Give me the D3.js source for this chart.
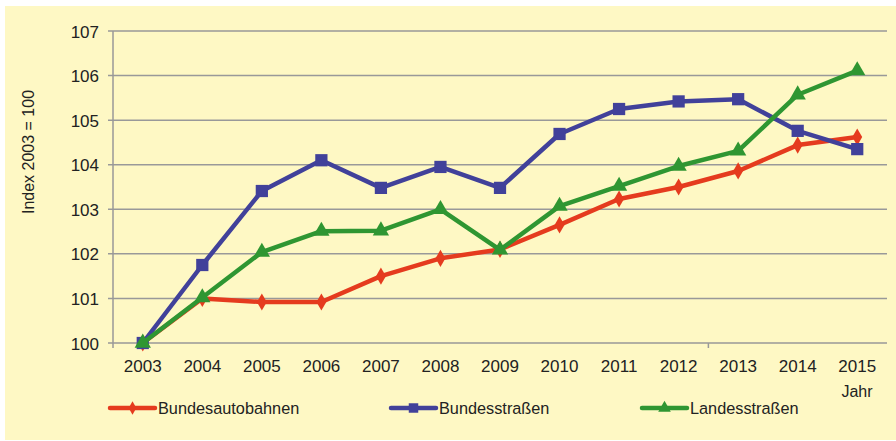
<!DOCTYPE html>
<html>
<head>
<meta charset="utf-8">
<script src="https://cdn.jsdelivr.net/npm/d3@7"></script>
<style>
  body { margin: 0; background: #fff; }
  svg { display: block; font-family: "Liberation Sans", Arial, sans-serif; }
</style>
</head>
<body>
<svg></svg>
<script>
const years = ["2003", "2004", "2005", "2006", "2007", "2008", "2009", "2010", "2011", "2012", "2013", "2014", "2015"];
const bundesautobahnen = [100, 101.0, 100.92, 100.92, 101.5, 101.9, 102.1, 102.65, 103.23, 103.5, 103.86, 104.44, 104.62];
const bundesstrassen = [100, 101.75, 103.41, 104.1, 103.48, 103.95, 103.48, 104.69, 105.25, 105.42, 105.47, 104.76, 104.35];
const landesstrassen = [100, 101.02, 102.04, 102.51, 102.52, 103.0, 102.09, 103.07, 103.52, 103.97, 104.31, 105.57, 106.11];
const yTicks = [100, 101, 102, 103, 104, 105, 106, 107];

const series = [
    { name: "Bundesautobahnen", values: bundesautobahnen, color: "#e53b1e", symbol: d3.symbolDiamond, size: 85 },
    { name: "Bundesstraßen", values: bundesstrassen, color: "#41419a", symbol: d3.symbolSquare, size: 150 },
    { name: "Landesstraßen", values: landesstrassen, color: "#2f9632", symbol: d3.symbolTriangle, size: 115 }
];

const width = 896, height = 441;
const plotLeft = 113, plotRight = 887, plotTop = 31, plotBottom = 343;

const svg = d3.select("svg")
    .attr("width", width)
    .attr("height", height);

// gelber Hintergrund
svg.append("rect")
    .attr("x", 5).attr("y", 6)
    .attr("width", width - 5).attr("height", 434)
    .attr("fill", "#fef8c4");

const x = d3.scaleBand().domain(years).range([plotLeft, plotRight]);
const y = d3.scaleLinear().domain([100, 107]).range([plotBottom, plotTop]);

// horizontale Gitterlinien
svg.append("g")
    .selectAll("line")
    .data(yTicks)
    .enter()
    .append("line")
    .attr("x1", plotLeft - 5)
    .attr("x2", plotRight)
    .attr("y1", d => y(d))
    .attr("y2", d => y(d))
    .attr("stroke", "#999")
    .attr("stroke-width", 1.5);

// y-Achse
svg.append("line")
    .attr("x1", plotLeft).attr("x2", plotLeft)
    .attr("y1", plotTop).attr("y2", plotBottom + 5)
    .attr("stroke", "#999")
    .attr("stroke-width", 1.5);

// Tick unter der x-Achse
svg.append("line")
    .attr("x1", x(years[10])).attr("x2", x(years[10]))
    .attr("y1", plotBottom).attr("y2", plotBottom + 5)
    .attr("stroke", "#999")
    .attr("stroke-width", 1.5);

svg.append("g")
    .selectAll("text")
    .data(yTicks)
    .enter()
    .append("text")
    .attr("x", 99)
    .attr("y", d => y(d) + 6.5)
    .attr("text-anchor", "end")
    .attr("font-size", 17)
    .attr("fill", "#222")
    .text(d => d);

svg.append("g")
    .selectAll("text")
    .data(years)
    .enter()
    .append("text")
    .attr("x", d => x(d) + x.bandwidth() / 2)
    .attr("y", 372)
    .attr("text-anchor", "middle")
    .attr("font-size", 17)
    .attr("fill", "#222")
    .text(d => d);

svg.append("text")
    .attr("x", 857)
    .attr("y", 397)
    .attr("text-anchor", "middle")
    .attr("font-size", 16)
    .attr("fill", "#222")
    .text("Jahr");

svg.append("text")
    .attr("transform", "translate(34 152) rotate(-90)")
    .attr("text-anchor", "middle")
    .attr("font-size", 16)
    .attr("fill", "#222")
    .text("Index 2003 = 100");

// Linien
const line = d3.line()
    .x((d, i) => x(years[i]) + x.bandwidth() / 2)
    .y(d => y(d));

series.forEach(s => {
    const g = svg.append("g");
    g.append("path")
        .attr("d", line(s.values))
        .attr("fill", "none")
        .attr("stroke", s.color)
        .attr("stroke-width", 4.5)
        .attr("stroke-linejoin", "round");
    g.selectAll("path.m")
        .data(s.values)
        .enter()
        .append("path")
        .attr("class", "m")
        .attr("d", d3.symbol().type(s.symbol).size(s.size))
        .attr("transform", (d, i) => `translate(${x(years[i]) + x.bandwidth() / 2} ${y(d)})`)
        .attr("fill", s.color);
});

// Legende
const legendX = [110, 391, 642];
series.forEach((s, i) => {
    const g = svg.append("g").attr("transform", `translate(${legendX[i]} 408)`);
    g.append("line")
        .attr("x1", 0).attr("x2", 45)
        .attr("stroke", s.color)
        .attr("stroke-width", 4.5)
        .attr("stroke-linecap", "round");
    g.append("path")
        .attr("d", d3.symbol().type(s.symbol).size(s.size * 0.6))
        .attr("transform", "translate(22.5 0)")
        .attr("fill", s.color);
    g.append("text")
        .attr("x", 48)
        .attr("y", 6)
        .attr("font-size", 16.3)
        .attr("fill", "#222")
        .text(s.name);
});
</script>
</body>
</html>
